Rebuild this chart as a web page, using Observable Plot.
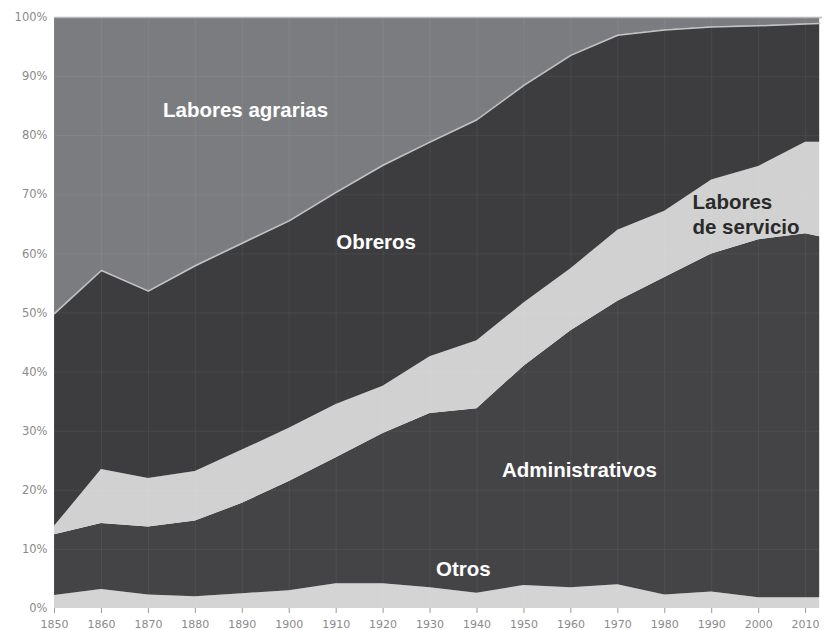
<!DOCTYPE html>
<html><head><meta charset="utf-8">
<script src="https://cdn.jsdelivr.net/npm/d3@7"></script>
<script src="https://cdn.jsdelivr.net/npm/@observablehq/plot@0.6"></script>
<style>body{margin:0;background:#fff;overflow:hidden}</style>
</head><body><div id="chart"></div>
<script>
const years = [1850,1860,1870,1880,1890,1900,1910,1920,1930,1940,1950,1960,1970,1980,1990,2000,2010,2013];
const otros           = [2.2,3.2,2.3,2.0,2.5,3.0,4.2,4.2,3.5,2.6,3.9,3.5,4.0,2.3,2.8,1.8,1.8,1.8];
const administrativos = [10.3,11.2,11.5,12.8,15.3,18.5,21.3,25.4,29.5,31.2,37.1,43.5,48.0,53.7,57.2,60.6,61.6,61.1];
const servicios       = [1.4,9.1,8.2,8.4,9.0,9.0,9.0,8.0,9.6,11.5,10.7,10.5,12.0,11.2,12.5,12.4,15.5,16.0];
const obreros         = [36.0,33.7,31.7,34.8,35.0,35.1,35.9,37.4,36.3,37.4,36.8,36.1,33.0,30.7,25.9,23.8,20.0,20.1];
const agrarias        = [50.1,42.8,46.3,42.0,38.2,34.4,29.6,25.0,21.1,17.3,11.5,6.4,3.0,2.1,1.6,1.4,1.1,1.0];

const categories = ["Otros","Administrativos","Labores de servicio","Obreros","Labores agrarias"];
const series = [otros, administrativos, servicios, obreros, agrarias];
const xTicks = [1850,1860,1870,1880,1890,1900,1910,1920,1930,1940,1950,1960,1970,1980,1990,2000,2010];
const yTicks = [0,10,20,30,40,50,60,70,80,90,100];

// annotation anchors (data space)
const whiteLabels = [
  {text:"Labores agrarias", year:1890.7, share:84.3},
  {text:"Obreros", year:1918.5, share:62.0},
  {text:"Administrativos", year:1961.8, share:23.4},
  {text:"Otros", year:1937.1, share:6.6}
];
const darkLabels = [
  {text:"Labores\nde servicio", year:1985.9, share:66.9}
];

const colors = ["#d4d4d4","#444447","#d1d1d1","#3d3d40","#7b7c80"];

const data = categories.flatMap((c,i) => years.map((y,j) => ({year:y, cat:c, share:series[i][j]})));
// upper edge of the Obreros layer (sum of the four lower layers)
const obrerosEdge = years.map((y,j) => ({year:y, top: otros[j]+administrativos[j]+servicios[j]+obreros[j]}));

const chart = Plot.plot({
  width: 827, height: 630,
  marginLeft: 54, marginRight: 5, marginTop: 17, marginBottom: 22,
  x: {domain:[1850, 2013.6]},
  y: {domain:[0,100]},
  color: {domain: categories, range: colors},
  style: {fontFamily:"DejaVu Sans", fontSize:"11px", background:"#fff"},
  marks: [
    Plot.areaY(data, {x:"year", y:"share", z:"cat", fill:"cat"}),
    Plot.lineY(obrerosEdge, {x:"year", y:"top", stroke:"#c4c4c4", strokeWidth:1.5}),
    Plot.gridX({ticks:xTicks, stroke:"#fff", strokeOpacity:0.06}),
    Plot.gridY({ticks:yTicks, stroke:"#fff", strokeOpacity:0.06}),
    Plot.ruleY([100], {stroke:"#b8b8b8", strokeWidth:1.5}),
    Plot.axisX({ticks:xTicks, tickSize:5, tickPadding:7, tickFormat:d=>String(d), stroke:"#999", fill:"#8a8a8a", fontSize:11, label:null}),
    Plot.axisY({ticks:yTicks, tickSize:0, tickPadding:7, tickFormat:d=>d+"%", fill:"#8a8a8a", fontSize:11.5, label:null}),
    Plot.text(whiteLabels, {x:"year", y:"share", text:"text", fill:"#fff", fontSize:20.5, fontWeight:"bold", fontFamily:"Liberation Sans"}),
    Plot.text(darkLabels, {x:"year", y:"share", text:"text", fill:"#2a2a2a", fontSize:20.5, fontWeight:"bold", fontFamily:"Liberation Sans", textAnchor:"start", lineHeight:1.22})
  ]
});
document.getElementById("chart").appendChild(chart);
</script>
</body></html>
